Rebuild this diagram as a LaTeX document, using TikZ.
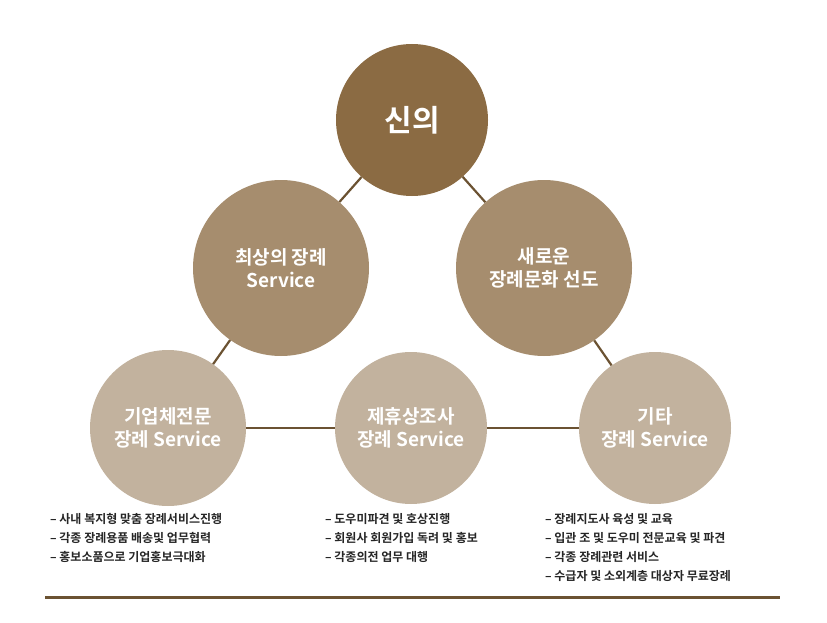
\documentclass[tikz,border=0pt]{standalone}
\usepackage{fontspec}
\setmainfont{Noto Sans CJK KR}
\newfontfamily\kb{Noto Sans CJK KR Bold}
\definecolor{cdark}{HTML}{8B6B43}
\definecolor{cmid}{HTML}{A68D6E}
\definecolor{clight}{HTML}{C2B29E}
\definecolor{cline}{HTML}{6B5232}
\begin{document}
\begin{tikzpicture}[x=1pt,y=-1pt,
  circ/.style={circle,inner sep=0pt,text=white,align=center,font=\kb\fontsize{19}{23}\selectfont},
  conn/.style={draw=cline,line width=2.2pt},
  lst/.style={anchor=north west,align=left,inner sep=0pt,font=\kb\fontsize{12}{19}\selectfont,text=black!85}]
\useasboundingbox (0,0) rectangle (827,623);
\node[circ,fill=cdark,minimum size=152pt,font=\kb\fontsize{30}{34}\selectfont] (top) at (412,120) {신의};
\node[circ,fill=cmid,minimum size=176pt] (ml) at (281,268) {최상의 장례\\Service};
\node[circ,fill=cmid,minimum size=176pt] (mr) at (544,268) {새로운\\장례문화 선도};
\node[circ,fill=clight,minimum size=156pt] (bl) at (168,428) {기업체전문\\장례 Service};
\node[circ,fill=clight,minimum size=152pt] (bm) at (411,428) {제휴상조사\\장례 Service};
\node[circ,fill=clight,minimum size=152pt] (br) at (655,428) {기타\\장례 Service};
\begin{scope}[on background layer/.style={}]
\end{scope}
\begin{pgfinterruptboundingbox}\end{pgfinterruptboundingbox}
\draw[conn] (top) -- (ml);
\draw[conn] (top) -- (mr);
\draw[conn] (ml) -- (bl);
\draw[conn] (mr) -- (br);
\draw[conn] (bl) -- (bm);
\draw[conn] (bm) -- (br);
\node[lst] (t1) at (50,513) {– 사내 복지형 맞춤 장례서비스진행\\– 각종 장례용품 배송및 업무협력\\– 홍보소품으로 기업홍보극대화};
\node[lst] (t2) at (236,513) {};
\node[lst] (t2) at (325,513) {– 도우미파견 및 호상진행\\– 회원사 회원가입 독려 및 홍보\\– 각종의전 업무 대행};
\node[lst] (t3) at (545,513) {– 장례지도사 육성 및 교육\\– 입관 조 및 도우미 전문교육 및 파견\\– 각종 장례관련 서비스\\– 수급자 및 소외계층 대상자 무료장례};
\coordinate (l1) at (45,597);
\coordinate (l2) at (780,597);
\draw[draw=cline,line width=3pt] (l1) -- (l2);
\end{tikzpicture}
\end{document}
